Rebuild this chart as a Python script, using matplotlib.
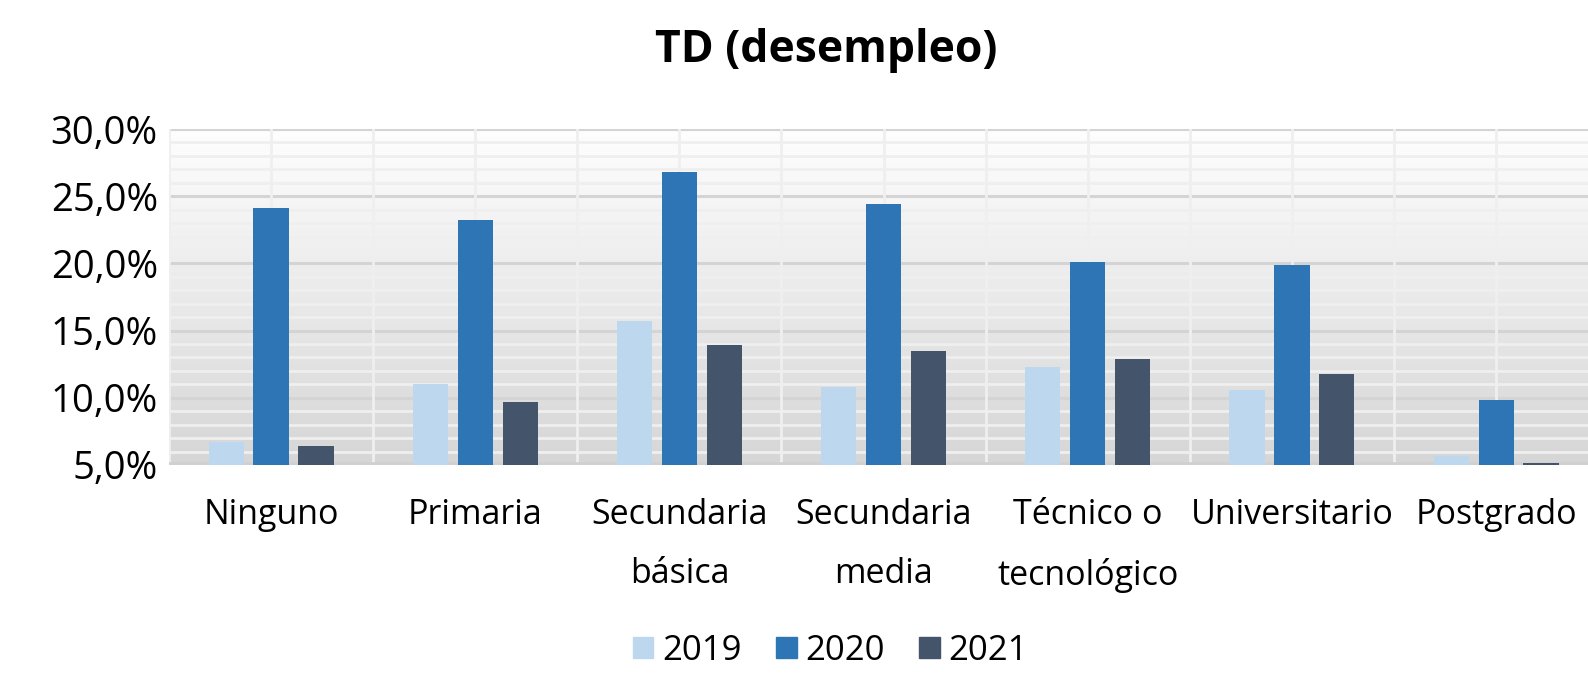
import matplotlib.pyplot as plt
import numpy as np
from matplotlib.patches import Patch

plt.rcParams['font.family'] = ['Open Sans', 'DejaVu Sans']

categorias = ["Ninguno", "Primaria", "Secundaria\nbásica", "Secundaria\nmedia",
              "Técnico o\ntecnológico", "Universitario", "Postgrado"]
anios = ["2019", "2020", "2021"]
td_2019 = [6.7, 11.0, 15.7, 10.8, 12.3, 10.6, 5.7]
td_2020 = [24.1, 23.2, 26.8, 24.4, 20.1, 19.9, 9.8]
td_2021 = [6.4, 9.7, 13.9, 13.5, 12.9, 11.8, 5.15]
colores = ["#BDD7EE", "#2E75B6", "#44546A"]

fig = plt.figure(figsize=(15.88, 6.78), dpi=100)
ax = fig.add_axes([0.1064, 0.3142, 0.8936, 0.4955])

x = np.arange(len(categorias))
ymin, ymax = 5, 30
xmin, xmax = -0.5, 6.45

# fondo degradado
grad = np.linspace(0, 1, 256).reshape(-1, 1)
ax.imshow(grad, extent=(xmin, xmax, ymin, ymax), aspect='auto', origin='upper',
          cmap=plt.matplotlib.colors.LinearSegmentedColormap.from_list(
              'g', ["#fefefe", "#d6d6d6"]), zorder=0)

# cuadricula
for v in range(ymin, ymax + 1):
    if v % 5 == 0:
        ax.axhline(v, color="#d4d4d4", lw=2.2, zorder=1)
    else:
        ax.axhline(v, color="#efefef", lw=2.0, zorder=1)
for xv in np.arange(-0.5, 6.6, 0.5):
    ax.axvline(xv, color="#efefef", lw=2.0, zorder=1)
ax.axhline(ymin, color="#d0d0d0", lw=4, zorder=1)

w = 0.172
off = 0.22
series = [td_2019, td_2020, td_2021]
for i, (vals, c) in enumerate(zip(series, colores)):
    ax.bar(x + (i - 1) * off, np.array(vals) - ymin, width=w, bottom=ymin,
           color=c, zorder=3, edgecolor='none')

ax.set_xlim(xmin, xmax)
ax.set_ylim(ymin, ymax)
ax.set_yticks(range(ymin, ymax + 1, 5))
ax.set_yticklabels([f"{v:.1f}%".replace(".", ",") for v in range(ymin, ymax + 1, 5)],
                   fontsize=27.5)
ax.set_xticks(x)
ax.set_xticklabels(categorias, fontsize=24.5, linespacing=1.95)
ax.tick_params(length=0, pad=8)
ax.tick_params(axis='x', pad=24)
for s in ax.spines.values():
    s.set_visible(False)

fig.text(0.52, 0.925, "TD (desempleo)", ha='center', va='center',
         fontsize=32, fontweight='bold')

handles = [Patch(color=c) for c in colores]
fig.legend(handles, anios, loc='center', bbox_to_anchor=(0.523, 0.04), ncol=3,
           frameon=False, fontsize=25, handlelength=0.58, handleheight=0.58,
           columnspacing=1.0, handletextpad=0.25)

fig.savefig("out.png", dpi=100)
